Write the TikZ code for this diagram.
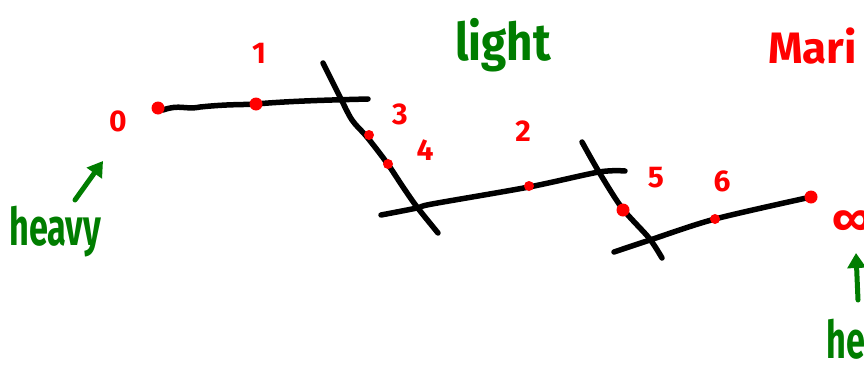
\documentclass[tikz,border=0pt]{standalone}
\usepackage{fontspec}
\setmainfont{Fira Sans}
\usetikzlibrary{arrows.meta}
\definecolor{pen red}{RGB}{255,0,0}
\definecolor{pen green}{RGB}{0,125,0}
\tikzset{
  stroke/.style={line width=5.5pt, line cap=round, line join=round, black},
  bigdot/.style={circle, fill=pen red, inner sep=0pt, minimum size=13pt},
  smalldot/.style={circle, fill=pen red, inner sep=0pt, minimum size=10pt},
  numlabel/.style={text=pen red, font=\fontsize{30}{30}\selectfont\bfseries, inner sep=0pt},
  word/.style={text=pen green, font=\fontsize{52}{52}\selectfont\bfseries, inner sep=0pt},
  redword/.style={text=pen red, font=\fontsize{44}{44}\selectfont\bfseries, inner sep=0pt},
  greenarrow/.style={line width=5pt, pen green, line cap=round, -{Triangle[length=15pt,width=18pt]}}
}
\begin{document}
\begin{tikzpicture}[x=1pt,y=-1pt]
\useasboundingbox (0,0) rectangle (864,375);
\clip (0,0) rectangle (864,375);
% lines
\draw[stroke] (163,110) .. controls (180,104) and (185,110) .. (200,107)
  .. controls (230,104) and (240,105) .. (256,104)
  .. controls (290,101) and (330,100) .. (368,99);
\draw[stroke] plot[smooth] coordinates {(323,63) (340,97) (352,120) (367,137) (387,163) (403,187) (417,207) (438,233)};
\draw[stroke] plot[smooth] coordinates {(381,215) (417,208) (432,204) (529,187) (599,172) (625,171)};
\draw[stroke] plot[smooth] coordinates {(582,142) (599,172) (622,208) (649,238) (662,258)};
\draw[stroke] plot[smooth] coordinates {(614,252) (650,240) (715,219) (811,197)};
% dots
\node[bigdot] (p0) at (158,108) {};
\node[bigdot] (p1) at (256,104) {};
\node[smalldot] (p3) at (369,135) {};
\node[smalldot] (p4) at (388,164) {};
\node[smalldot] (p2) at (529,186) {};
\node[bigdot] (p5) at (623,210) {};
\node[smalldot] (p6) at (715,219) {};
\node[bigdot] (pinf) at (811,197) {};
% labels
\node[numlabel] (l0) at (118,121) {0};
\node[numlabel] (l1) at (259,53) {1};
\node[numlabel] (l3) at (400,114) {3};
\node[numlabel] (l4) at (425,150) {4};
\node[numlabel] (l2) at (523,131) {2};
\node[numlabel] (l5) at (656,178) {5};
\node[numlabel] (l6) at (722,181) {6};
\node[text=pen red, font=\fontsize{44}{44}\selectfont\bfseries, inner sep=0pt, anchor=west] (linf) at (832,223) {∞};
% words
\node[word, anchor=base west] (light) at (455,60) {\scalebox{0.88}[1]{light}};
\node[word, anchor=base west] (heavyL) at (9,245) {\scalebox{0.66}[1]{heavy}};
\node[word, anchor=base west] (heavyR) at (826,358) {\scalebox{0.66}[1]{heavy}};
\node[redword, anchor=base west] (mari) at (768,63) {Mari};
% arrows
\coordinate (aL1) at (75,200);
\coordinate (aL2) at (103,161);
\coordinate (aR1) at (858,300);
\coordinate (aR2) at (856,253);
\draw[greenarrow] (aL1) -- (aL2);
\draw[greenarrow] (aR1) -- (aR2);
\end{tikzpicture}
\end{document}
